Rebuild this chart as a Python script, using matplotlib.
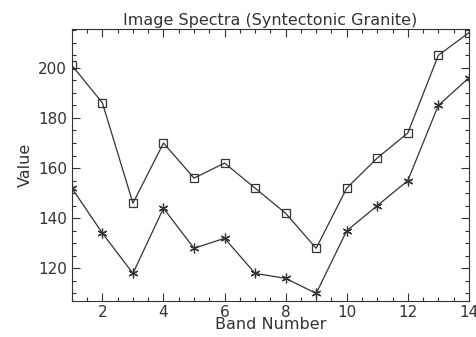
import matplotlib
matplotlib.use('Agg')
import matplotlib.pyplot as plt
from matplotlib.ticker import MultipleLocator

# band numbers and the two spectra
bands = [1, 2, 3, 4, 5, 6, 7, 8, 9, 10, 11, 12, 13, 14]
spec_sq = [201, 186, 146, 170, 156, 162, 152, 142, 128, 152, 164, 174, 205, 214]
spec_st = [152, 134, 118, 144, 128, 132, 118, 116, 110, 135, 145, 155, 185, 196]

col = '#333333'
fig = plt.figure(figsize=(4.76, 3.37), dpi=100)
ax = fig.add_axes([0.151, 0.107, 0.834, 0.807])

ax.plot(bands, spec_sq, '-', color=col, lw=0.9, marker='s', ms=6,
        mfc='none', mec=col, mew=0.9)
ax.plot(bands, spec_st, '-', color=col, lw=0.9, marker=(6, 2, 0), ms=7,
        mec=col, mew=0.9)

ax.set_xlim(1, 14)
ax.set_ylim(107, 215.5)
ax.xaxis.set_major_locator(MultipleLocator(2))
ax.xaxis.set_minor_locator(MultipleLocator(0.5))
ax.yaxis.set_major_locator(MultipleLocator(20))
ax.yaxis.set_minor_locator(MultipleLocator(5))
ax.tick_params(which='both', direction='in', top=True, right=True,
               color=col, labelcolor=col, labelsize=11, width=0.8)
ax.tick_params(which='major', length=6)
ax.tick_params(which='minor', length=3)
ax.tick_params(axis='x', pad=3)
for s in ax.spines.values():
    s.set_color(col)
    s.set_linewidth(0.8)

ax.set_title('Image Spectra (Syntectonic Granite)', color=col, fontsize=11.5, pad=3)
ax.set_xlabel('Band Number', color=col, fontsize=11.5, labelpad=-2)
ax.set_ylabel('Value', color=col, fontsize=11.5, labelpad=4)

plt.savefig('out.png', dpi=100)
